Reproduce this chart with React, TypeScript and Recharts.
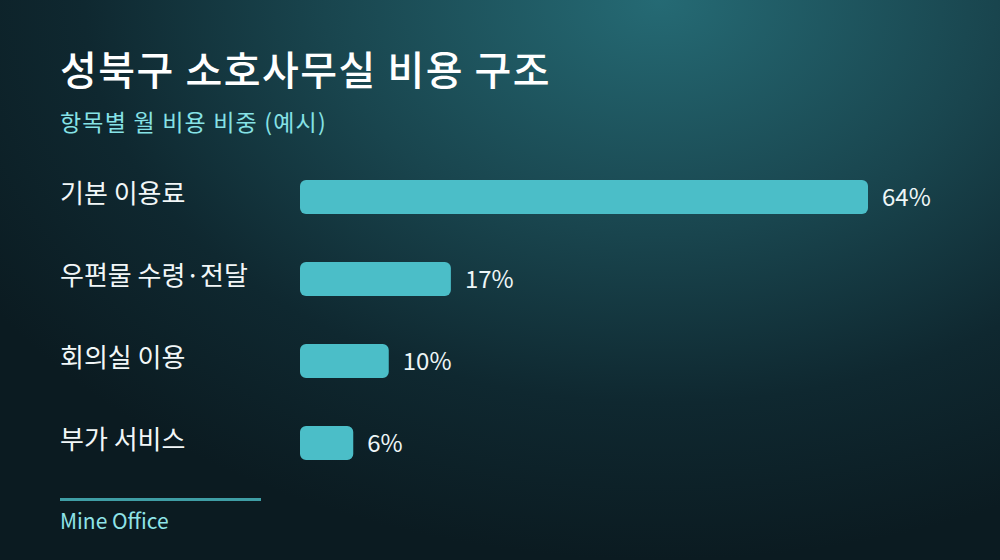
import { BarChart, Bar, XAxis, YAxis, LabelList } from 'recharts';

const categories = ['기본 이용료', '우편물 수령·전달', '회의실 이용', '부가 서비스'];
const shares = [64, 17, 10, 6];
const title = '성북구 소호사무실 비용 구조';
const subtitle = '항목별 월 비용 비중 (예시)';
const source = 'Mine Office';

const data = categories.map((name, i) => ({ name, share: shares[i] }));

const FONT = '"Noto Sans CJK KR", "Noto Sans", sans-serif';

function CategoryTick({ y, payload }: any) {
  return (
    <text x={60} y={y} dy={6} textAnchor="start" fontSize={26} fill="#f2f7f8" fontFamily={FONT}>
      {payload.value}
    </text>
  );
}

export default function App() {
  return (
    <div
      style={{
        position: 'relative',
        width: 1000,
        height: 560,
        overflow: 'hidden',
        fontFamily: FONT,
        background:
          'radial-gradient(ellipse 80% 100% at 66% 0%, #256a74 0%, #19454e 42%, #0f2830 72%, #0b1b21 100%)',
      }}
    >
      <style>{'body{margin:0}'}</style>
      <svg width={1000} height={560} style={{ position: 'absolute', left: 0, top: 0 }}>
        <text x={60} y={85} fontSize={40} fontWeight={500} letterSpacing={1.5} fill="#ffffff" fontFamily={FONT}>
          {title}
        </text>
        <text x={60} y={131} fontSize={23} letterSpacing={1.2} fill="#86e2e6" fontFamily={FONT}>
          {subtitle}
        </text>
        <rect x={60} y={498} width={201} height={3} fill="#3f9ea5" />
        <text x={60} y={529} fontSize={21} fill="#8fe4e8" fontFamily={FONT}>
          {source}
        </text>
      </svg>
      <div style={{ position: 'absolute', left: 0, top: 0 }}>
        <BarChart
          width={1000}
          height={560}
          data={data}
          layout="vertical"
          margin={{ top: 156, right: 132, bottom: 76, left: 0 }}
        >
          <XAxis type="number" domain={[0, 64]} hide />
          <YAxis
            type="category"
            dataKey="name"
            width={300}
            axisLine={false}
            tickLine={false}
            tick={<CategoryTick />}
          />
          <Bar dataKey="share" fill="#4bbec8" barSize={34} radius={6} isAnimationActive={false}>
            <LabelList
              dataKey="share"
              position="right"
              offset={14}
              formatter={(v: any) => `${v}%`}
              style={{ fontSize: 24, fill: '#eef6f7', fontFamily: FONT }}
            />
          </Bar>
        </BarChart>
      </div>
    </div>
  );
}
